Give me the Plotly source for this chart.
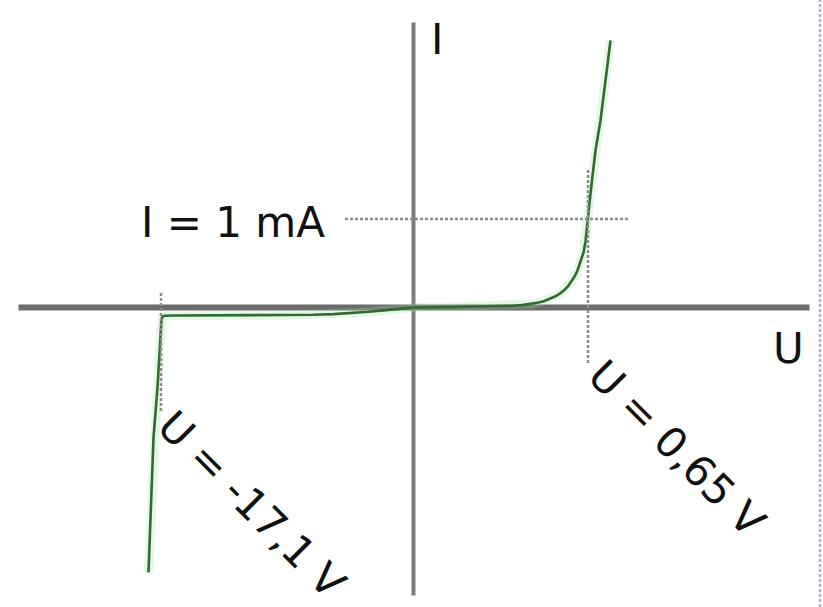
import plotly.graph_objects as go

# Schematic diode characteristic (arbitrary drawing units, origin at the axis crossing)
forward_u = [0, 40, 80, 100, 110, 118, 125, 131, 137, 142, 147, 151, 155, 158, 161, 164,
             167, 170, 172, 174, 177, 182, 187, 197]
forward_i = [0, 0.5, 1, 1.8, 2.6, 3.6, 5, 6.6, 8.8, 11.2, 14.4, 17.6, 21.8, 26, 31, 37,
             45, 55, 66, 87, 114, 157, 187, 267]

reverse_u = [0, -8, -18, -30, -45, -62, -80, -100, -125, -160, -200, -240, -249, -251,
             -252, -253, -256, -260, -265]
reverse_i = [0, -0.6, -1.6, -2.9, -4.3, -5.6, -6.6, -7.3, -7.7, -7.9, -8, -8, -8.2, -9,
             -12, -30, -80, -130, -265]

# Reference markers
knee_current = 88.5          # I = 1 mA level
knee_voltage = 174.5         # U = 0.65 V position
breakdown_voltage = -252.5   # U = -17.1 V position

labels = {
    "current_axis": "I",
    "voltage_axis": "U",
    "current_mark": "I = 1 mA",
    "forward_mark": "U = 0,65 V",
    "reverse_mark": "U = -17,1 V",
}

x_range = [-413.5, 409.5]
y_range = [-299.5, 307.5]

curve_u = reverse_u[::-1] + forward_u[1:]
curve_i = reverse_i[::-1] + forward_i[1:]

green = "#2f6a2f"
axis_h = "#6b6b6b"
axis_v = "#7d7d7d"
dot_grey = "#8c8c8c"
font = dict(family="DejaVu Sans", size=42, color="#111111")

fig = go.Figure()

# axes
fig.add_shape(type="line", x0=-395, x1=396, y0=0, y1=0,
              line=dict(color=axis_h, width=6), layer="below")
fig.add_shape(type="line", x0=0, x1=0, y0=285, y1=-288,
              line=dict(color=axis_v, width=4), layer="below")

# dotted guide lines
fig.add_shape(type="line", x0=-68.5, x1=216.5, y0=knee_current, y1=knee_current,
              line=dict(color=dot_grey, width=2.5, dash="3px,2px"))
fig.add_shape(type="line", x0=knee_voltage, x1=knee_voltage, y0=137.5, y1=-57.5,
              line=dict(color=dot_grey, width=2.5, dash="3px,2px"))
fig.add_shape(type="line", x0=breakdown_voltage, x1=breakdown_voltage, y0=14.5, y1=-104.5,
              line=dict(color=dot_grey, width=2.5, dash="3px,2px"))

# frame edge on the right
fig.add_shape(type="line", x0=406.5, x1=406.5, y0=y_range[0], y1=y_range[1],
              line=dict(color="#aeb0dc", width=2.5, dash="3px,2px"))

# soft halo + curve
fig.add_trace(go.Scatter(x=curve_u, y=curve_i, mode="lines",
                         line=dict(color="rgba(150,225,150,0.25)", width=9),
                         hoverinfo="skip"))
fig.add_trace(go.Scatter(x=curve_u, y=curve_i, mode="lines",
                         line=dict(color=green, width=2.6)))

fig.add_annotation(x=23.5, y=268, text=labels["current_axis"], showarrow=False,
                   xanchor="center", yanchor="middle", font=font)
fig.add_annotation(x=374.5, y=-40.5, text=labels["voltage_axis"], showarrow=False,
                   xanchor="center", yanchor="middle", font=font)
fig.add_annotation(x=-86.5, y=85.5, text=labels["current_mark"], showarrow=False,
                   xanchor="right", yanchor="middle", font=font)
fig.add_annotation(x=263.5, y=-140.5, text=labels["forward_mark"], showarrow=False,
                   textangle=45, xanchor="center", yanchor="middle", font=font)
fig.add_annotation(x=-162, y=-197, text=labels["reverse_mark"], showarrow=False,
                   textangle=45, xanchor="center", yanchor="middle", font=font)

fig.update_layout(
    width=823, height=607,
    margin=dict(l=0, r=0, t=0, b=0),
    paper_bgcolor="white", plot_bgcolor="white",
    showlegend=False,
    xaxis=dict(range=x_range, visible=False, fixedrange=True),
    yaxis=dict(range=y_range, visible=False, fixedrange=True),
)

fig.write_html("out.html")
